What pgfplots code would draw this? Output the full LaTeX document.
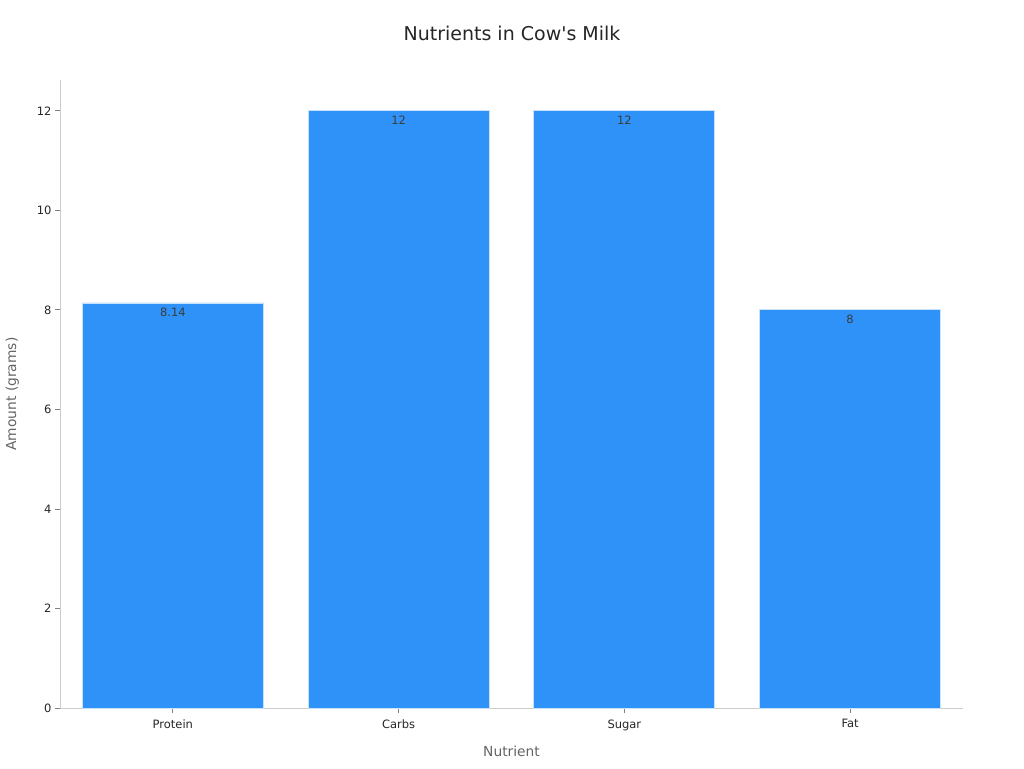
\documentclass[border=0pt]{standalone}
\usepackage{pgfplots}
\pgfplotsset{compat=1.18}
\usepackage{fontspec}
\setmainfont{DejaVu Sans}
\definecolor{barblue}{RGB}{47,146,248}
\definecolor{baredge}{RGB}{200,225,250}
\definecolor{axisgray}{RGB}{204,204,204}
\definecolor{ticktext}{RGB}{38,38,38}
\definecolor{labeltext}{RGB}{100,100,100}
\begin{document}
\begin{tikzpicture}[x=1pt,y=1pt]
  \path[use as bounding box] (0,0) rectangle (1024,768);
  \node[font=\fontsize{19}{22}\selectfont, text=ticktext] at (512,735) {Nutrients in Cow\textquotesingle s Milk};
  \begin{axis}[
    at={(60pt,60pt)},
    anchor=south west,
    scale only axis,
    width=903pt,
    height=628pt,
    ybar,
    bar width=181pt,
    xmin=-0.5, xmax=3.5,
    ymin=0, ymax=12.62,
    xtick={0,1,2,3},
    xticklabels={Protein, Carbs, Sugar, Fat},
    ytick={0,2,4,6,8,10,12},
    axis x line*=bottom,
    axis y line*=left,
    axis line style={axisgray, line width=0.8pt},
    major tick style={gray, line width=0.8pt},
    tick align=outside,
    major tick length=5pt,
    ticklabel style={font=\fontsize{11.5}{13}\selectfont, text=ticktext},
    xticklabel style={yshift=-3pt},
    /pgf/number format/assume math mode=true,
    xlabel={Nutrient},
    ylabel={Amount (grams)},
    label style={font=\fontsize{13.8}{16}\selectfont, text=labeltext},
    xlabel style={yshift=-9pt},
    ylabel style={yshift=11pt},
    nodes near coords,
    every node near coord/.append style={anchor=north, yshift=-1pt,
      font=\fontsize{11.5}{13}\selectfont, text=ticktext!90},
  ]
  \addplot[fill=barblue, draw=baredge, line width=0.8pt] coordinates {
    (0,8.14) (1,12) (2,12) (3,8)
  };
  \end{axis}
\end{tikzpicture}
\end{document}
